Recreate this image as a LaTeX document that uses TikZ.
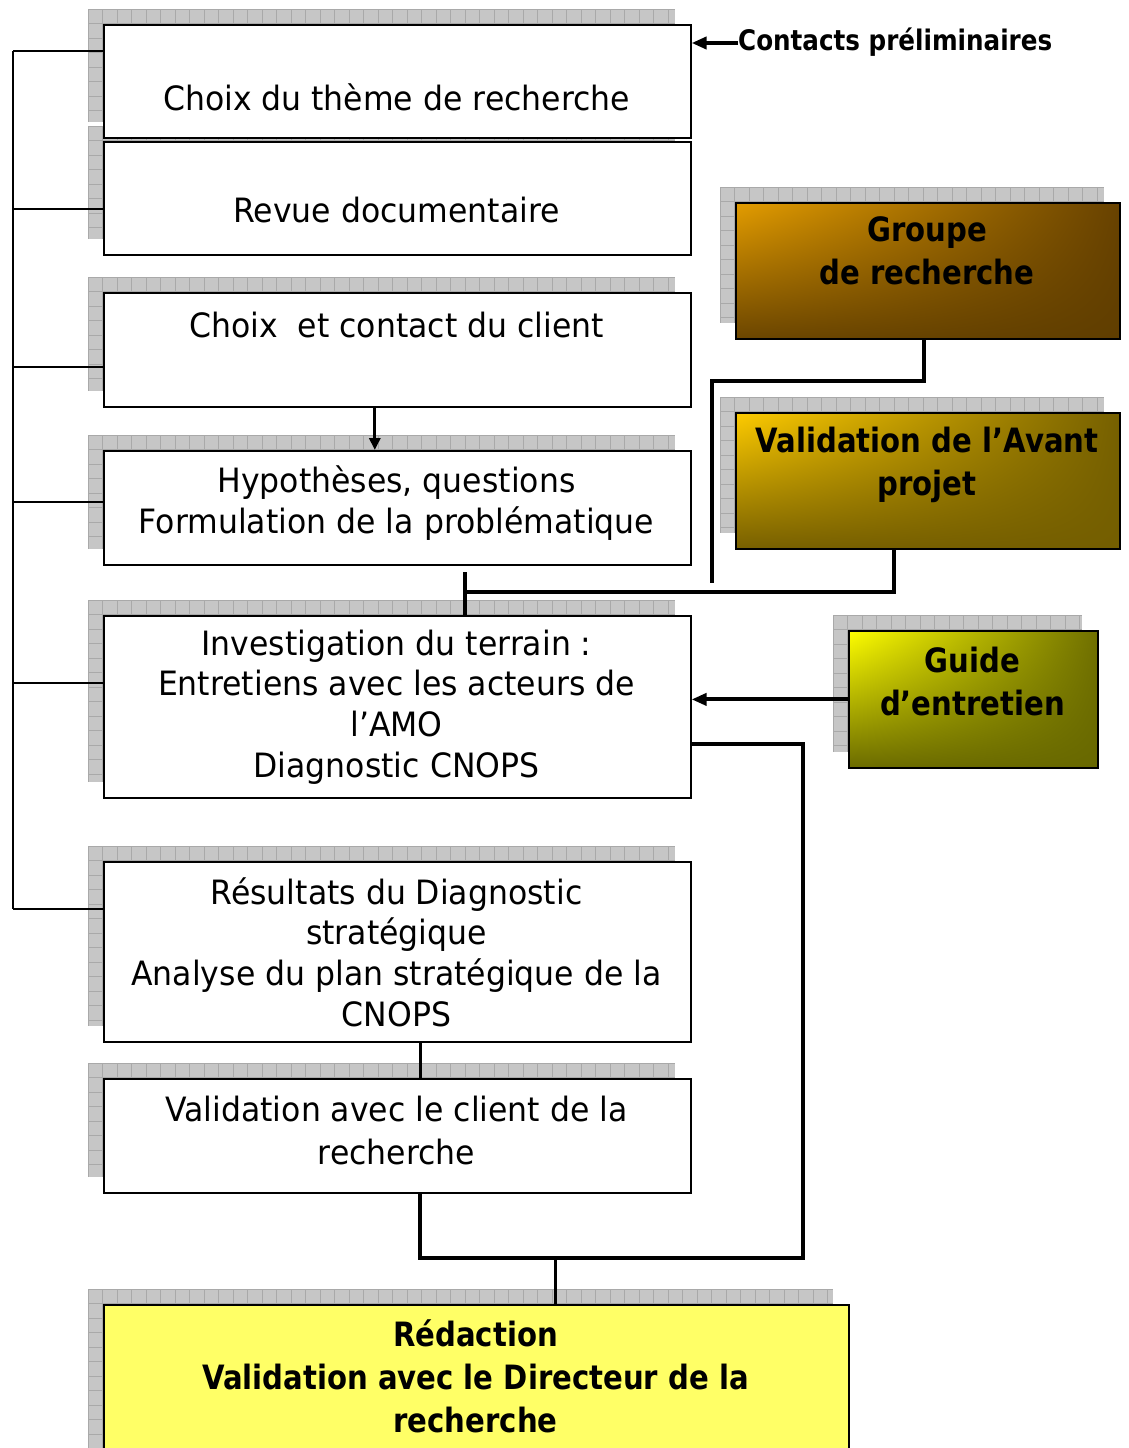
\documentclass[tikz,border=0pt]{standalone}
\usepackage{fontspec}
\setmainfont{DejaVu Sans}[FakeStretch=0.94]
\newfontfamily\bfam{DejaVu Sans}[FakeStretch=0.87]
\usetikzlibrary{arrows.meta,shadings}
\definecolor{shadowgray}{HTML}{C6C6C6}
\definecolor{gridgray}{HTML}{A9A9A9}
\definecolor{redfill}{HTML}{FFFF66}
\definecolor{gUL}{RGB}{228,157,0}
\definecolor{gUR}{RGB}{104,66,0}
\definecolor{gLL}{RGB}{108,70,0}
\definecolor{gLR}{RGB}{96,62,0}
\definecolor{aUL}{RGB}{255,204,0}
\definecolor{aUR}{RGB}{118,96,0}
\definecolor{aLL}{RGB}{120,96,0}
\definecolor{aLR}{RGB}{116,94,0}
\definecolor{uUL}{RGB}{255,255,0}
\definecolor{uUR}{RGB}{112,112,0}
\definecolor{uLL}{RGB}{108,108,0}
\definecolor{uLR}{RGB}{104,104,0}
\newcommand{\myshadow}[4]{%
  \begin{scope}
    \clip (#1-15,#2-15) rectangle (#3-15,#4-15);
    \fill[shadowgray] (#1-15,#2-15) rectangle (#3-15,#4-15);
    \foreach \gx in {0,14.5,...,800} \draw[gridgray,line width=0.7pt] ({#1-15+\gx},#2-15) -- ({#1-15+\gx},#4-15);
    \foreach \gy in {0,14.5,...,400} \draw[gridgray,line width=0.7pt] (#1-15,{#2-15+\gy}) -- (#3-15,{#2-15+\gy});
  \end{scope}}
\begin{document}
\begin{tikzpicture}[x=1pt,y=-1pt,
  box/.style={draw=black,line width=1.6pt,fill=white,inner sep=0pt,anchor=north west},
  cbox/.style={draw=black,line width=1.8pt,inner sep=0pt,anchor=north west},
  txt/.style={inner sep=0pt,align=center,font=\fontsize{33.5}{40.7}\selectfont},
  btxt/.style={inner sep=0pt,align=center,font=\bfam\fontsize{33.5}{43}\selectfont\bfseries},
  thinline/.style={line width=1.8pt},
  medline/.style={line width=3pt},
  thickline/.style={line width=4pt},
  arrowline/.style={line width=4pt,-{Triangle[length=15pt,width=12pt]}},
  smallarrow/.style={line width=3pt,-{Triangle[length=12pt,width=11pt]}}
]
\useasboundingbox (0,0) rectangle (1129,1448);
% shadows
\myshadow{103}{24}{690}{137}
\myshadow{103}{141}{690}{254}
\myshadow{103}{292}{690}{406}
\myshadow{103}{450}{690}{564}
\myshadow{103}{615}{690}{797}
\myshadow{103}{861}{690}{1041}
\myshadow{103}{1078}{690}{1192}
\myshadow{103}{1304}{848}{1470}
\myshadow{735}{202}{1119}{338}
\myshadow{735}{412}{1119}{548}
\myshadow{848}{630}{1097}{767}
% main boxes
\node[box,minimum width=587pt,minimum height=113pt] (b1) at (103,24) {};
\node[box,minimum width=587pt,minimum height=113pt] (b2) at (103,141) {};
\node[box,minimum width=587pt,minimum height=114pt] (b3) at (103,292) {};
\node[box,minimum width=587pt,minimum height=114pt] (b4) at (103,450) {};
\node[box,minimum width=587pt,minimum height=182pt] (b5) at (103,615) {};
\node[box,minimum width=587pt,minimum height=180pt] (b6) at (103,861) {};
\node[box,minimum width=587pt,minimum height=114pt] (b7) at (103,1078) {};
\node[box,fill=redfill,minimum width=745pt,minimum height=170pt] (red) at (103,1304) {};
% coloured boxes
\shade[upper left=gUL,upper right=gUR,lower left=gLL,lower right=gLR] (735,202) rectangle (1119,338);
\node[cbox,minimum width=384pt,minimum height=136pt] (grp) at (735,202) {};
\shade[upper left=aUL,upper right=aUR,lower left=aLL,lower right=aLR] (735,412) rectangle (1119,548);
\node[cbox,minimum width=384pt,minimum height=136pt] (avant) at (735,412) {};
\shade[upper left=uUL,upper right=uUR,lower left=uLL,lower right=uLR] (848,630) rectangle (1097,767);
\node[cbox,minimum width=249pt,minimum height=137pt] (guide) at (848,630) {};
% texts
\node[txt] (t1) at (396.5,97) {Choix du thème de recherche};
\node[txt] (t2) at (396.5,210) {Revue documentaire};
\node[txt] (t3) at (396.5,325) {Choix\ \ et contact du client};
\node[txt] (t4) at (396.5,503) {Hypothèses, questions\\Formulation de la problématique};
\node[txt] (t5) at (396.5,707) {Investigation du terrain :\\Entretiens avec les acteurs de\\l’AMO\\Diagnostic CNOPS};
\node[txt] (t6) at (396.5,952) {Résultats du Diagnostic\\stratégique\\Analyse du plan stratégique de la\\CNOPS};
\node[txt,font=\fontsize{33.5}{43}\selectfont] (t7) at (396.5,1130) {Validation avec le client de la\\recherche};
\node[btxt] (tg) at (927,251) {Groupe\\de recherche};
\node[btxt] (ta) at (927,465) {Validation de l’Avant\\projet};
\node[btxt] (tgu) at (972.5,682) {Guide\\d’entretien};
\node[btxt] (tr) at (475.5,1376) {Rédaction\\Validation avec le Directeur de la\\recherche};
\node[inner sep=0pt,anchor=west,font=\bfam\fontsize{28.3}{32}\selectfont\bfseries] (contacts) at (738,42) {Contacts préliminaires};
% left bus
\coordinate (L1) at (13,51);
\coordinate (L2) at (13,209);
\coordinate (L3) at (13,367);
\coordinate (L4) at (13,502);
\coordinate (L5) at (13,683);
\coordinate (L6) at (13,909);
\draw[thinline] (L1) -- (L6);
\draw[thinline] (L1) -- (L1 -| b1.west);
\draw[thinline] (L2) -- (L2 -| b2.west);
\draw[thinline] (L3) -- (L3 -| b3.west);
\draw[thinline] (L4) -- (L4 -| b4.west);
\draw[thinline] (L5) -- (L5 -| b5.west);
\draw[thinline] (L6) -- (L6 -| b6.west);
% arrows
\draw[arrowline] ([yshift=-1pt]contacts.west) -- ([yshift=-1pt]contacts.west -| b1.east);
\draw[smallarrow] ([xshift=-22.5pt]b3.south) -- ([xshift=-22.5pt]b4.north);
\draw[arrowline] (guide.west) -- (guide.west -| b5.east);
% groupe & avant-projet
\coordinate (gm) at (712,381);
\coordinate (ge) at (712,583);
\draw[thickline] ([xshift=-4pt]grp.south) |- (gm) -- (ge);
\coordinate (vt) at (465,572);
\coordinate (vh) at (465,592);
\draw[thickline] ([xshift=-34pt]avant.south) |- (vh);
\draw[thickline] (vt) -- (vt |- b5.north);
% lower connectors
\coordinate (jR) at (803,1258);
\coordinate (jL) at (420,1258);
\coordinate (j) at (555,1258);
\draw[thickline] ([yshift=-37pt]b5.east) -| (jR) -- (jL) -- (jL |- b7.south);
\draw[medline] (jL |- b6.south) -- (jL |- b7.north);
\draw[medline] (j) -- (j |- red.north);
\end{tikzpicture}
\end{document}
